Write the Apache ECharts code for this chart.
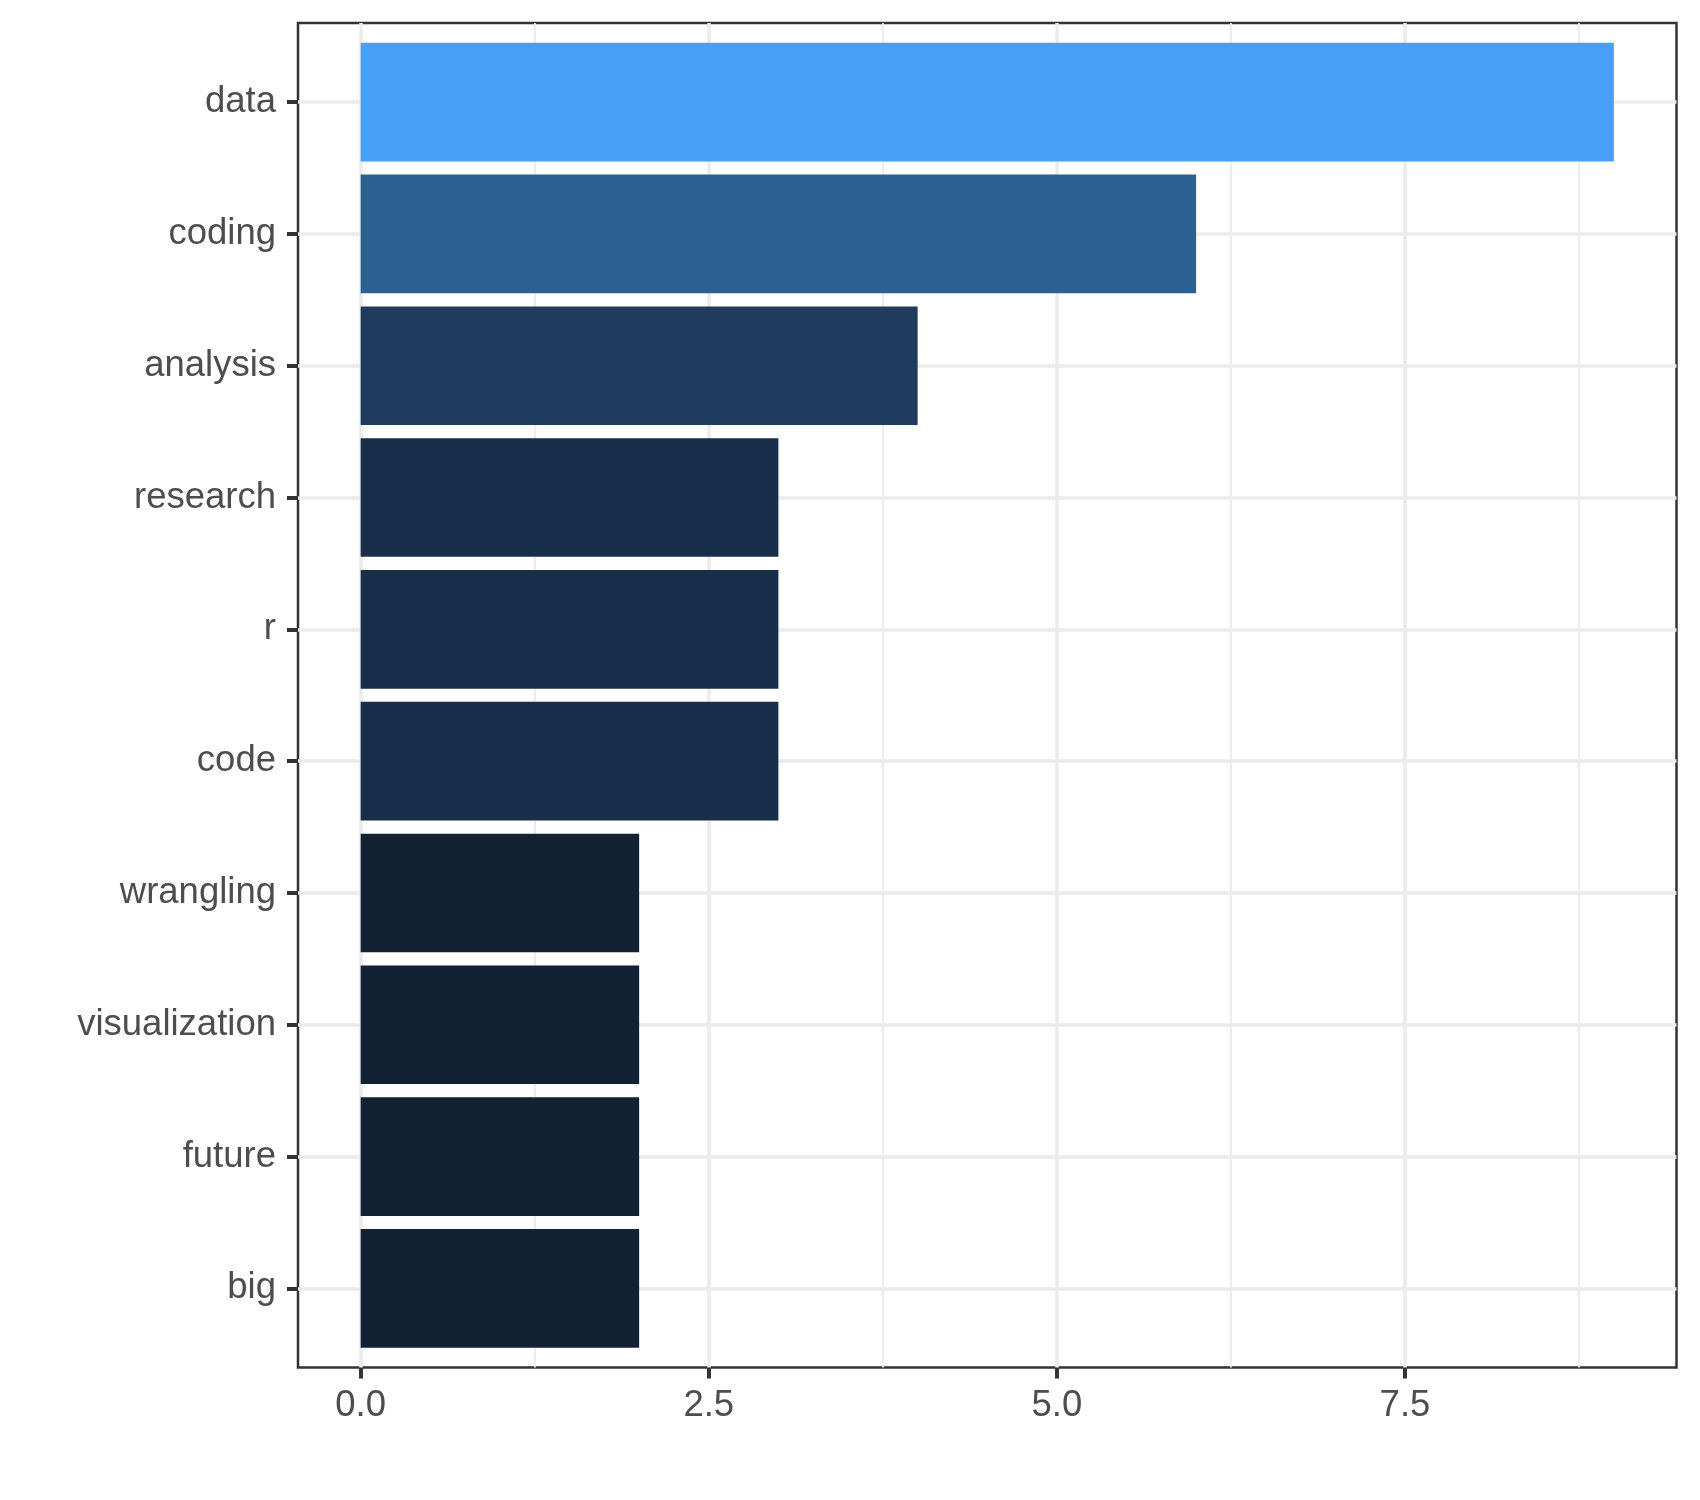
<!DOCTYPE html>
<html>
<head>
<meta charset="utf-8">
<script src="https://cdn.jsdelivr.net/npm/echarts@6/dist/echarts.min.js"></script>
<style>
html,body{margin:0;padding:0;background:#ffffff;}
#chart{width:1700px;height:1500px;}
</style>
</head>
<body>
<div id="chart"></div>
<script>
// ---- data ----
const categories = ['data', 'coding', 'analysis', 'research', 'r', 'code', 'wrangling', 'visualization', 'future', 'big'];
const counts = [9, 6, 4, 3, 3, 3, 2, 2, 2, 2];
const xTickValues = [0, 2.5, 5, 7.5];
const xMinorValues = [1.25, 3.75, 6.25, 8.75];

// ---- styles / layout ----
const fillScale = { 2: '#122133', 3: '#192E4A', 4: '#1F3C5F', 6: '#2C5F92', 9: '#479FF8' };
const FONT = '"Liberation Sans", Arial, Helvetica, sans-serif';
const TEXT_COLOR = '#4D4D4D';
const DARK = '#333333';
const GRID_COLOR = '#EBEBEB';
const X_MIN = -0.45, X_MAX = 9.45;
const PANEL = { left: 298, right: 23.5, top: 23, bottom: 132.5 };
const H = 1500;
const panelH = H - PANEL.top - PANEL.bottom;
const step = panelH / (categories.length - 1 + 1.2);
const inset = (0.6 - 0.5) * step;

const chart = echarts.init(document.getElementById('chart'), null, { renderer: 'canvas' });

const option = {
  animation: false,
  backgroundColor: '#ffffff',
  grid: [
    { left: PANEL.left, right: PANEL.right, top: PANEL.top + inset, bottom: PANEL.bottom + inset, containLabel: false },
    { left: PANEL.left, right: PANEL.right, top: PANEL.top, bottom: PANEL.bottom, containLabel: false,
      show: true, borderColor: DARK, borderWidth: 2.5, backgroundColor: 'transparent' }
  ],
  xAxis: [
    { gridIndex: 0, type: 'value', min: X_MIN, max: X_MAX, show: false },
    { gridIndex: 1, type: 'value', min: X_MIN, max: X_MAX, position: 'bottom',
      axisLine: { show: false, onZero: false },
      axisTick: { show: true, customValues: xTickValues, length: 11, lineStyle: { color: DARK, width: 4 } },
      axisLabel: { show: true, customValues: xTickValues, formatter: v => Number(v).toFixed(1),
        margin: 20, color: TEXT_COLOR, fontSize: 36.5, fontFamily: FONT },
      splitLine: { show: false }, minorTick: { show: false }, minorSplitLine: { show: false } }
  ],
  yAxis: [
    { gridIndex: 0, type: 'category', data: categories, inverse: true, position: 'left',
      axisLine: { show: false, onZero: false },
      axisTick: { show: true, alignWithLabel: true, length: 11, lineStyle: { color: DARK, width: 4 } },
      axisLabel: { show: true, interval: 0, margin: 22, padding: [6, 0, 0, 0],
        color: TEXT_COLOR, fontSize: 36.5, fontFamily: FONT },
      splitLine: { show: false } },
    { gridIndex: 1, type: 'value', min: 0, max: 1, show: false }
  ],
  series: [
    {
      type: 'bar', xAxisIndex: 0, yAxisIndex: 0, data: counts,
      barCategoryGap: '10%', z: 3,
      itemStyle: { color: p => fillScale[p.value] },
      emphasis: { disabled: true },
      markLine: {
        silent: true, z: 1, animation: false, symbol: ['none', 'none'],
        label: { show: false },
        lineStyle: { color: GRID_COLOR, width: 3.5, type: 'solid' },
        data: categories.map(c => ({ yAxis: c }))
      }
    },
    {
      type: 'scatter', xAxisIndex: 1, yAxisIndex: 1, data: [],
      markLine: {
        silent: true, z: 1, animation: false, symbol: ['none', 'none'],
        label: { show: false },
        lineStyle: { color: GRID_COLOR, width: 3.5, type: 'solid' },
        data: xMinorValues.map(v => ({ xAxis: v, lineStyle: { color: GRID_COLOR, width: 1.8, type: 'solid' } }))
          .concat(xTickValues.map(v => ({ xAxis: v })))
      }
    }
  ]
};
chart.setOption(option);
</script>
</body>
</html>
